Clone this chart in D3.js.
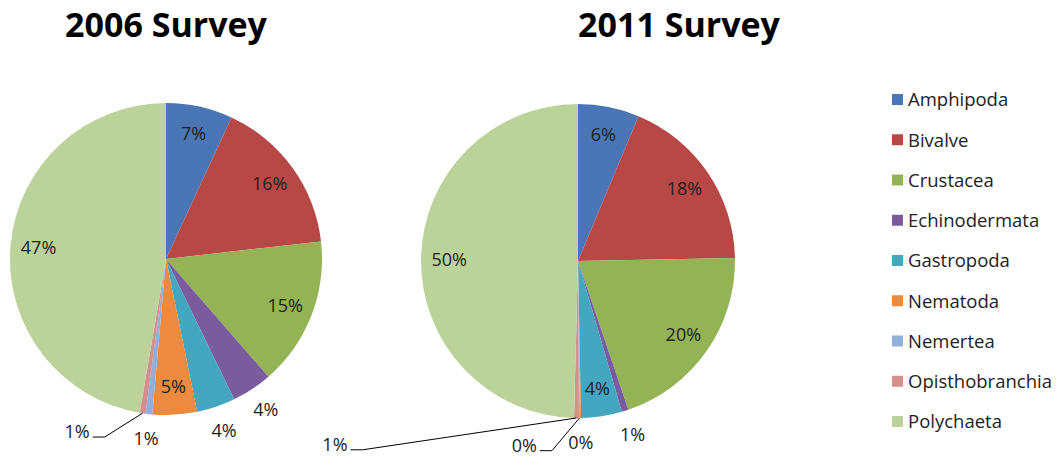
<!DOCTYPE html>
<html lang="en">
<head>
<meta charset="UTF-8">
<title>2006 / 2011 Survey</title>
<script src="https://cdn.jsdelivr.net/npm/d3@7"></script>
<style>
  body { margin: 0; background: #fff; }
  svg { display: block; font-family: "Open Sans", sans-serif; }
  .title { font-weight: bold; font-size: 34px; fill: #000; }
  .lbl { font-size: 18px; fill: #222; }
  .leg { font-size: 18.5px; fill: #222; }
</style>
</head>
<body>
<div id="chart"></div>
<script>
// data (percent of individuals)
const categories = ["Amphipoda", "Bivalve", "Crustacea", "Echinodermata", "Gastropoda",
                    "Nematoda", "Nemertea", "Opisthobranchia", "Polychaeta"];
const values2006 = [6.9, 16.3, 15.4, 4.2, 4.0, 4.6, 0.7, 0.6, 47.3];
const values2011 = [6.3, 18.4, 20.1, 0.7, 4.2, 0.1, 0.1, 0.5, 49.6];
const surveys = ["2006 Survey", "2011 Survey"];

const colors = ["#4A76B5", "#B84845", "#93B354", "#7A5C9E", "#45A6BF",
                "#EC8A3F", "#92AEDB", "#D48F8F", "#BCD29B"];

const width = 1064, height = 457;

// where each pie goes, and how its labels are placed
const pies = [
  { values: values2006, cx: 166, cy: 259, r: 156, titleX: 166,
    outside: [3, 4, 6, 7],
    moved: { 7: [207.2, 1.247] } },
  { values: values2011, cx: 578, cy: 261, r: 157, titleX: 679,
    outside: [3, 5, 6, 7],
    moved: { 6: [196.2, 1.225], 7: [232.9, 1.941] } }
];

const svg = d3.select("#chart").append("svg")
  .attr("width", width)
  .attr("height", height);

svg.append("rect").attr("width", width).attr("height", height).attr("fill", "#fff");

const color = d3.scaleOrdinal().domain(categories).range(colors);

const pie = d3.pie().sort(null).value(d => d.value);

const rad = deg => deg * Math.PI / 180;
const polar = (p, a, rr) => [p.cx + rr * Math.sin(a), p.cy - rr * Math.cos(a)];

pies.forEach((p, k) => {
  const rows = categories.map((c, i) => ({ name: c, value: p.values[i], i: i }));
  const total = d3.sum(rows, d => d.value);
  const arcs = pie(rows);
  const arc = d3.arc().innerRadius(0).outerRadius(p.r);

  svg.append("text")
    .attr("class", "title")
    .attr("x", p.titleX)
    .attr("y", 37)
    .attr("text-anchor", "middle")
    .text(surveys[k]);

  const g = svg.append("g");

  g.selectAll("path")
    .data(arcs)
    .enter().append("path")
    .attr("transform", `translate(${p.cx},${p.cy})`)
    .attr("d", arc)
    .attr("fill", d => color(d.data.name));

  arcs.forEach(d => {
    const mid = (d.startAngle + d.endAngle) / 2;
    const txt = Math.round(d.value / total * 100) + "%";
    let pos;
    const mv = p.moved[d.data.i];
    if (mv) {
      pos = polar(p, rad(mv[0]), p.r * mv[1]);
    } else if (p.outside.includes(d.data.i)) {
      pos = polar(p, mid, p.r * 1.16);
    } else {
      pos = polar(p, mid, p.r * 0.82);
    }

    const t = g.append("text")
      .attr("class", "lbl")
      .attr("x", pos[0])
      .attr("y", pos[1])
      .attr("dy", "0.35em")
      .attr("text-anchor", "middle")
      .text(txt);

    if (mv) {
      // leader line from label to the slice edge
      const w = t.node().getComputedTextLength();
      const x0 = pos[0] + w / 2 + 3, y0 = pos[1] + 5;
      const edge = polar(p, mid, p.r);
      g.append("polyline")
        .attr("points", [[x0, y0], [x0 + 12, y0], edge].map(q => q.join(",")).join(" "))
        .attr("fill", "none")
        .attr("stroke", "#000")
        .attr("stroke-width", 1);
    }
  });
});

// legend
const legY = d3.scalePoint().domain(categories).range([100, 422]);

const leg = svg.append("g").selectAll("g")
  .data(categories)
  .enter().append("g")
  .attr("transform", d => `translate(892,${legY(d)})`);

leg.append("rect")
  .attr("x", 0)
  .attr("y", -6)
  .attr("width", 11)
  .attr("height", 11)
  .attr("fill", d => color(d));

leg.append("text")
  .attr("class", "leg")
  .attr("x", 16)
  .attr("dy", "0.35em")
  .text(d => d);
</script>
</body>
</html>
